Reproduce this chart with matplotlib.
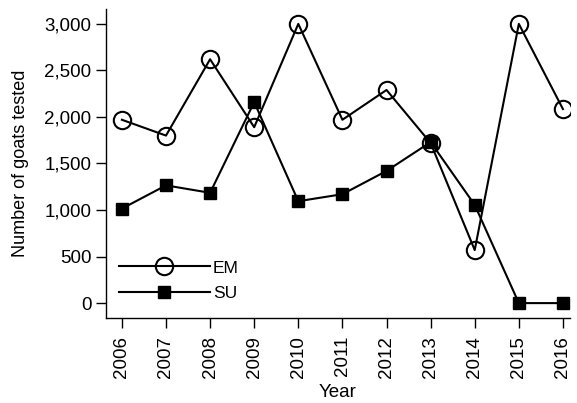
import matplotlib
matplotlib.use("Agg")
import matplotlib.pyplot as plt
from matplotlib.ticker import FuncFormatter

years = [2006, 2007, 2008, 2009, 2010, 2011, 2012, 2013, 2014, 2015, 2016]
em = [1970, 1800, 2620, 1890, 3000, 1970, 2290, 1720, 570, 3000, 2085]
su = [1015, 1265, 1185, 2160, 1095, 1170, 1420, 1730, 1055, 0, 0]
yticks = [0, 500, 1000, 1500, 2000, 2500, 3000]

plt.rcParams['font.family'] = ['Liberation Sans', 'DejaVu Sans']

fig = plt.figure(figsize=(5.77, 4.03), dpi=100)
ax = fig.add_axes([106/577, 1 - 318/403, (570-106)/577, (318-9)/403])

ax.plot(years, em, color='black', lw=1.5, marker='o', markersize=12.5,
        markerfacecolor='none', markeredgecolor='black', markeredgewidth=1.5, label='EM')
ax.plot(years, su, color='black', lw=1.5, marker='s', markersize=9,
        markerfacecolor='black', markeredgecolor='black', label='SU')

ax.set_xlim(2005.64, 2016.16)
ax.set_ylim(-160, 3160)
ax.set_xticks(years)
ax.set_xticklabels([str(y) for y in years], rotation=90)
ax.set_yticks(yticks)
ax.yaxis.set_major_formatter(FuncFormatter(lambda v, p: f"{int(v):,}"))
ax.tick_params(axis='both', labelsize=13.5, length=7, width=1, direction='out',
               color='black', pad=3.5)
ax.tick_params(axis='x', pad=6)
ax.spines['top'].set_visible(False)
ax.spines['right'].set_visible(False)
for s in ['left', 'bottom']:
    ax.spines[s].set_linewidth(1)
ax.set_xlabel('Year', fontsize=13.5)
ax.set_ylabel('Number of goats tested', fontsize=13)
ax.yaxis.set_label_coords(-0.166, 0.5)
ax.xaxis.set_label_coords(0.5, -0.215)

ax.legend(loc='lower left', bbox_to_anchor=(-0.005, 0.003), frameon=False, fontsize=12.5,
          handlelength=5.2, handletextpad=0.2, labelspacing=0.62)

fig.savefig('out.png', dpi=100)
